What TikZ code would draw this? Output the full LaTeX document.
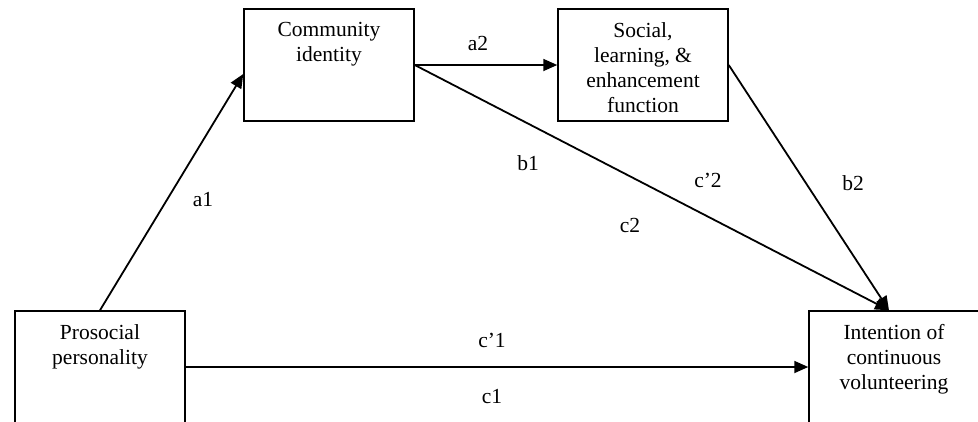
\documentclass[tikz,border=0pt]{standalone}
\usepackage{fontspec}
\setmainfont{Liberation Serif}
\usetikzlibrary{arrows.meta,calc}
\begin{document}
\begin{tikzpicture}[x=1pt,y=-1pt,
  box/.style={draw,line width=1.5pt,minimum width=170pt,minimum height=112pt,inner sep=0pt},
  boxtext/.style={anchor=north,align=center,inner sep=0pt,font=\fontsize{21.5}{25}\selectfont},
  lbl/.style={inner sep=0pt,font=\fontsize{21.5}{25}\selectfont},
  conn/.style={line width=1.8pt,-{Triangle[length=14pt,width=12pt]}}]
\useasboundingbox (0,0) rectangle (978,421);
\begin{scope}
\clip (0,0) rectangle (978,421);
% boxes
\node[box] (ci) at (329,65) {};
\node[box] (se) at (643,65) {};
\node[box] (pp) at (100,367) {};
\node[box,minimum width=220pt] (ic) at (919,367) {};
% box texts
\node[boxtext] (cit) at ($(ci.north)+(0,14)$) {Community\\identity};
\node[boxtext] (set) at ($(se.north)+(0,14)$) {Social,\\learning, \&\\enhancement\\function};
\node[boxtext] (ppt) at ($(pp.north)+(0,14)$) {Prosocial\\personality};
\node[boxtext] (ict) at ($(ic.north)+(-25,14)$) {Intention of\\continuous\\volunteering};
% connectors
\coordinate (tip) at ($(ic.north)+(-30,0)$);
\draw[conn] (pp.north) -- ($(ci.west)+(0,9)$);
\draw[conn] (ci.east) -- (se.west);
\draw[conn] (ci.east) -- (tip);
\draw[conn] (se.east) -- (tip);
\draw[conn] (pp.east) -- (ic.west);
% labels
\node[lbl] (la1) at (203,200) {a1};
\node[lbl] (la2) at (478,43) {a2};
\node[lbl] (lb1) at (528,163) {b1};
\node[lbl] (lcp2) at (708,180) {c’2};
\node[lbl] (lc2) at (630,225) {c2};
\node[lbl] (lb2) at (853,183) {b2};
\node[lbl] (lcp1) at (492,340) {c’1};
\node[lbl] (lc1) at (492,397) {c1};
\end{scope}
\end{tikzpicture}
\end{document}
